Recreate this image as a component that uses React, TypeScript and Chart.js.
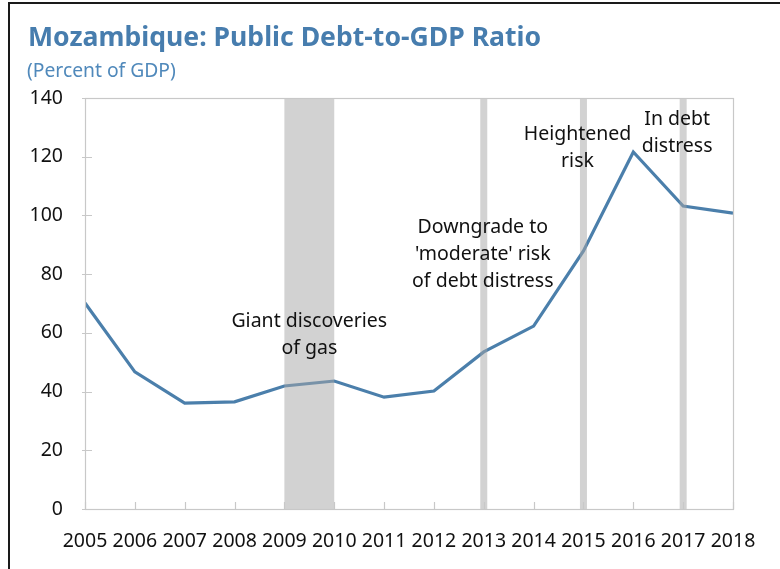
import React, { useEffect, useRef } from "react";
import { Chart, registerables } from "chart.js";

Chart.register(...registerables);

const years = [2005, 2006, 2007, 2008, 2009, 2010, 2011, 2012, 2013, 2014, 2015, 2016, 2017, 2018];
const debtRatio = [70.2, 46.7, 36.1, 36.5, 41.9, 43.6, 38.1, 40.2, 53.5, 62.3, 87.9, 121.6, 103.2, 100.8];
const yTicks = [0, 20, 40, 60, 80, 100, 120, 140];
const bandStarts = [2009, 2012.93, 2014.93, 2016.93];
const bandEnds = [2010, 2013.07, 2015.07, 2017.07];
const noteX = [2009.5, 2012.98, 2014.88, 2016.88];
const noteY = [64, 96, 127.5, 132.8];
const noteLines = [
  ["Giant discoveries", "of gas"],
  ["Downgrade to", "'moderate' risk", "of debt distress"],
  ["Heightened", "risk"],
  ["In debt", "distress"],
];
const title = "Mozambique: Public Debt-to-GDP Ratio";
const subtitle = "(Percent of GDP)";

const FONT = "'Noto Sans', 'Open Sans', sans-serif";

const decor = {
  id: "decor",
  beforeDraw(chart: any) {
    const ctx = chart.ctx;
    ctx.save();
    ctx.fillStyle = "#ffffff";
    ctx.fillRect(0, 0, chart.width, chart.height);
    ctx.fillStyle = "#1a1a1a";
    ctx.fillRect(8, 2, chart.width - 8, 2);
    ctx.fillRect(8, 2, 2, chart.height - 2);
    ctx.textBaseline = "alphabetic";
    ctx.textAlign = "left";
    ctx.fillStyle = "#477dae";
    ctx.font = `bold 26.6px ${FONT}`;
    ctx.fillText(title, 28, 46);
    ctx.fillStyle = "#5089bb";
    ctx.font = `19.3px ${FONT}`;
    ctx.fillText(subtitle, 27, 77);
    ctx.restore();
  },
  afterDatasetsDraw(chart: any) {
    const ctx = chart.ctx;
    const xs = chart.scales.x;
    const ys = chart.scales.y;
    const a = chart.chartArea;
    ctx.save();
    ctx.fillStyle = "rgba(165,165,165,0.5)";
    for (let i = 0; i < bandStarts.length; i++) {
      const x0 = xs.getPixelForValue(bandStarts[i]);
      const x1 = xs.getPixelForValue(bandEnds[i]);
      ctx.fillRect(x0, a.top, x1 - x0, a.bottom - a.top);
    }
    ctx.strokeStyle = "#c8c8c8";
    ctx.lineWidth = 1.2;
    ctx.strokeRect(a.left + 0.5, a.top + 0.5, a.right - a.left, a.bottom - a.top);
    ctx.beginPath();
    for (const v of yTicks) {
      const y = Math.round(ys.getPixelForValue(v)) + 0.5;
      ctx.moveTo(a.left - 3, y);
      ctx.lineTo(a.left + 7, y);
    }
    for (const yr of years) {
      const x = Math.round(xs.getPixelForValue(yr)) + 0.5;
      ctx.moveTo(x, a.bottom);
      ctx.lineTo(x, a.bottom - 7);
    }
    ctx.stroke();
    ctx.fillStyle = "#111111";
    ctx.font = `19.5px ${FONT}`;
    ctx.textAlign = "center";
    ctx.textBaseline = "middle";
    for (let i = 0; i < noteLines.length; i++) {
      const cx = xs.getPixelForValue(noteX[i]);
      const cy = ys.getPixelForValue(noteY[i]);
      noteLines[i].forEach((t, j) => ctx.fillText(t, cx, cy + j * 27));
    }
    ctx.restore();
  },
};

export default function App() {
  const ref = useRef<HTMLCanvasElement>(null);
  useEffect(() => {
    if (!ref.current) return;
    const chart = new Chart(ref.current, {
      type: "line",
      data: {
        datasets: [
          {
            data: years.map((y, i) => ({ x: y, y: debtRatio[i] })),
            borderColor: "#4b7fab",
            borderWidth: 3.2,
            pointRadius: 0,
            tension: 0,
            fill: false,
          },
        ],
      },
      options: {
        animation: false,
        responsive: false,
        layout: { padding: { top: 98, left: 0, right: 47, bottom: 0 } },
        plugins: { legend: { display: false }, tooltip: { enabled: false } },
        scales: {
          x: {
            type: "linear",
            min: 2005,
            max: 2018,
            afterBuildTicks: (s: any) => {
              s.ticks = years.map((v) => ({ value: v }));
            },
            afterFit: (s: any) => {
              s.height = 60;
            },
            ticks: {
              color: "#111111",
              font: { family: FONT, size: 19.5 },
              padding: 21,
              maxRotation: 0,
              autoSkip: false,
              callback: (v: any) => String(v),
            },
            grid: { display: false, drawTicks: false },
            border: { display: false },
          },
          y: {
            min: 0,
            max: 140,
            afterBuildTicks: (s: any) => {
              s.ticks = yTicks.map((v) => ({ value: v }));
            },
            afterFit: (s: any) => {
              s.width = 85;
            },
            ticks: {
              color: "#111111",
              font: { family: FONT, size: 19.5 },
              padding: 22,
              callback: (v: any) => String(v),
            },
            grid: { display: false, drawTicks: false },
            border: { display: false },
          },
        },
      },
      plugins: [decor],
    });
    return () => chart.destroy();
  }, []);
  return (
    <div style={{ position: "fixed", left: 0, top: 0, width: 780, height: 569 }}>
      <canvas ref={ref} width={780} height={569} style={{ display: "block" }} />
    </div>
  );
}
